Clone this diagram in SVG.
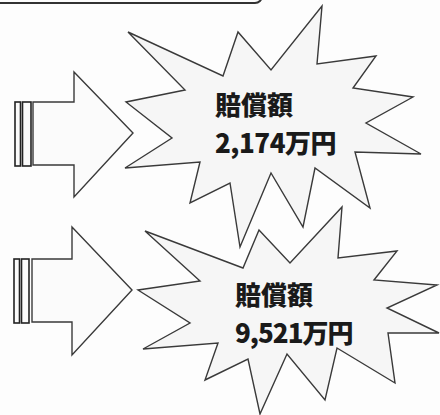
<svg xmlns="http://www.w3.org/2000/svg" width="440" height="415" viewBox="0 0 440 415">
  <style>
    .ln { fill: #fbfbfb; stroke: #3a3a3a; stroke-width: 1.4; stroke-linejoin: miter; }
    .star { fill: #f6f6f6; stroke: #3a3a3a; stroke-width: 1.4; stroke-linejoin: miter; }
    .bar { fill: #fbfbfb; stroke: #222; stroke-width: 1.6; }
    .lbl { font-family: "Noto Sans CJK JP", "Noto Sans", sans-serif; font-weight: 900; font-size: 26px; fill: #1a1a1a; }
  </style>
  <rect x="0" y="0" width="440" height="415" fill="#fdfdfd"/>
  <g id="header">
    <rect x="-20" y="-40" width="282" height="43" rx="7" ry="7" fill="none" stroke="#333" stroke-width="2"/>
  </g>
  <g id="connectors">
    <g id="arrow1">
      <rect class="bar" x="15" y="102" width="5.5" height="64"/>
      <rect class="bar" x="22.5" y="102" width="8.5" height="64"/>
      <polygon class="ln" points="33,102 74,102 74,72 133,133 74,197 74,165 33,165"/>
    </g>
    <g id="arrow2">
      <rect class="bar" x="14" y="259" width="5.5" height="64"/>
      <rect class="bar" x="21.5" y="259" width="7.5" height="64"/>
      <polygon class="ln" points="32,259 72,259 72,227 132,290 72,355 72,322 32,322"/>
    </g>
  </g>
  <g id="star1">
    <polygon class="star" points="128,32 223,76 238,32 271,70 322,6 317,64 376,56 353,88 413,97 366,123 421,154 355,152 370,208 315,168 303,227 271,173 240,247 230,183 190,203 200,162 125,168 172,138 126,102 185,90"/>
    <text class="lbl" x="215" y="115">賠償額</text>
    <text class="lbl" x="215" y="153" letter-spacing="-0.5">2,174万円</text>
  </g>
  <g id="star2">
    <polygon class="star" points="145,231 243,268 259,230 290,263 342,207 338,258 397,251 374,280 437,285 387,308 439,333 388,333 395,383 337,348 325,400 287,354 260,414 248,359 205,380 218,343 143,349 190,323 138,290 200,281"/>
    <text class="lbl" x="235" y="305">賠償額</text>
    <text class="lbl" x="235" y="343" letter-spacing="-1">9,521万円</text>
  </g>
</svg>
